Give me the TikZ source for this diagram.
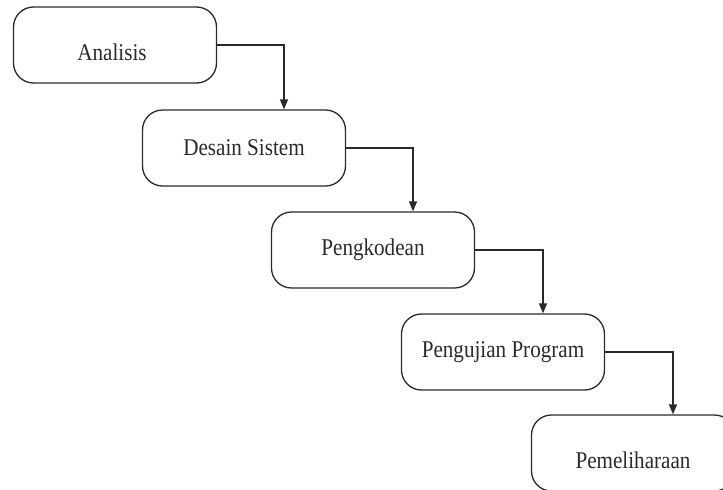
\documentclass[tikz,border=0pt]{standalone}
\usepackage{fontspec}
\newfontfamily\stagefont[FakeStretch=0.88]{Liberation Serif}
\usetikzlibrary{arrows.meta}
\definecolor{ink}{HTML}{2A2A2A}
\begin{document}
\begin{tikzpicture}[x=1pt,y=-1pt,
  stagebox/.style={draw=ink, line width=1.3pt, rounded corners=20pt,
    minimum width=203pt, minimum height=76pt, inner sep=0pt,
    font=\stagefont\fontsize{24}{28}\selectfont, text=ink},
  stagetext/.style={inner sep=0pt, font=\stagefont\fontsize{24}{28}\selectfont, text=ink},
  flow/.style={draw=ink, line width=1.3pt,
    -{Triangle[length=10pt,width=8pt]}}]
  \useasboundingbox (0,0) rectangle (723,490);
  \clip (0,0) rectangle (723,490);
  % waterfall stages
  \node[stagebox] (b1) at (115,45)  {};
  \node[stagetext] (t1) at ([xshift=-3pt,yshift=-7pt]b1.center) {Analisis};
  \node[stagebox] (b2) at (244,148) {Desain Sistem};
  \node[stagebox] (b3) at (373,250) {Pengkodean};
  \node[stagebox] (b4) at (503,352) {Pengujian Program};
  \node[stagebox] (b5) at (633,453) {};
  \node[stagetext] (t5) at ([yshift=-7pt]b5.center) {Pemeliharaan};
  % stage-to-stage connectors
  \draw[flow] (b1.east) -| ([xshift=40pt]b2.north);
  \draw[flow] (b2.east) -| ([xshift=40pt]b3.north);
  \draw[flow] (b3.east) -| ([xshift=40pt]b4.north);
  \draw[flow] (b4.east) -| ([xshift=40pt]b5.north);
\end{tikzpicture}
\end{document}
